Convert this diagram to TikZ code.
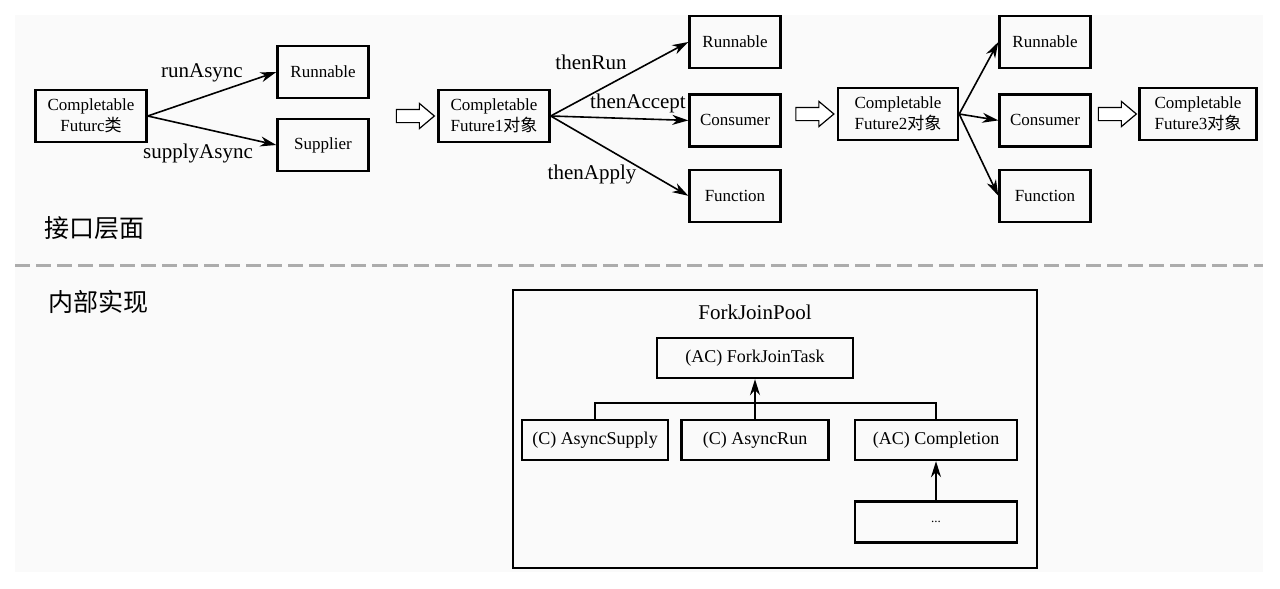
\documentclass[tikz,border=0pt]{standalone}
\usepackage{fontspec}
\setmainfont{Liberation Serif}
\newfontfamily\cjk{Noto Sans CJK SC}
\usetikzlibrary{positioning,arrows.meta,shapes.arrows}
\tikzset{box/.style={draw,line width=2.4pt,minimum width=91pt,minimum height=52pt,inner sep=2pt,align=center,font=\fontsize{17}{21}\selectfont},
	 cfbox/.style={box,minimum width=111pt},
	 cls/.style={draw,line width=2.4pt,minimum height=40pt,inner sep=2pt,font=\fontsize{18}{20}\selectfont},
	 lbl/.style={inner sep=0pt,font=\fontsize{21}{24}\selectfont},
	 zh/.style={inner sep=0pt,font=\cjk\fontsize{25}{28}\selectfont},
	 link/.style={-{Stealth[length=16pt,width=10pt,inset=5pt]},line width=1.6pt},
	 hollow/.style={single arrow,draw,fill=white,line width=1.2pt,inner xsep=0pt,inner ysep=6pt,minimum height=38pt,single arrow head extend=6pt,single arrow tip angle=80},
	 node distance = 24pt
	 }

\begin{document}
\begin{tikzpicture}[x=1pt,y=-1pt]% CompletableFuture layers
        \useasboundingbox (0,0) rectangle (1280,589);
        \fill[black!2] (15,15) rectangle (1263,572);
        % interface level
        \node[cfbox] (cf0) at (91,116) {Completable\\Futurc{\cjk 类}};
        \node[box] (r1) at (323,72) {Runnable};
        \node[box] (s1) at (323,145) {Supplier};
        \node[lbl] (lrun) at (202,73) {runAsync};
        \node[lbl] (lsup) at (198,153) {supplyAsync};
        \draw[link] (cf0.east) to (r1.west);
        \draw[link] (cf0.east) to (s1.west);

        \node[cfbox] (cf1) at (494,116) {Completable\\Future1{\cjk 对象}};
        \node[hollow] (h1) [left=2pt of cf1] {};
        \node[box] (r2) at (735,42) {Runnable};
        \node[box] (c2) [below=of r2] {Consumer};
        \node[box] (f2) [below=21pt of c2] {Function};
        \node[lbl] (lthr) at (591,62) {thenRun};
        \node[lbl] (ltha) at (638,103) {thenAccept};
        \node[lbl] (lthp) at (592,174) {thenApply};
        \draw[link] (cf1.east) to (r2.west);
        \draw[link] (cf1.east) to (c2.west);
        \draw[link] (cf1.east) to (f2.west);

        \node[cfbox,minimum width=120pt] (cf2) at (898,114) {Completable\\Future2{\cjk 对象}};
        \node[hollow] (h2) [left=2pt of cf2] {};
        \node[box] (r3) at (1045,42) {Runnable};
        \node[box] (c3) [below=of r3] {Consumer};
        \node[box] (f3) [below=21pt of c3] {Function};
        \draw[link] (cf2.east) to (r3.west);
        \draw[link] (cf2.east) to (c3.west);
        \draw[link] (cf2.east) to (f3.west);

        \node[cfbox,minimum width=117pt] (cf3) at (1198,114) {Completable\\Future3{\cjk 对象}};
        \node[hollow] (h3) [left=1pt of cf3] {};

        \node[zh,anchor=west] (api) at (44,228) {接口层面};
        \draw[gray!65,line width=3pt,dash pattern=on 15pt off 6pt] (15,265) -- (1263,265);
        \node[zh,anchor=west] (impl) at (48,302) {内部实现};

        % implementation level
        \node[draw,line width=2.4pt,minimum width=524pt,minimum height=278pt] (pool) at (775,429) {};
        \node[lbl] (lpool) at (755,312) {ForkJoinPool};
        \node[cls,minimum width=196pt] (fjt) at (755,358) {(AC) ForkJoinTask};
        \node[cls,minimum width=146pt] (asup) at (595,440) {(C) AsyncSupply};
        \node[cls,minimum width=147pt] (arun) at (755,440) {(C) AsyncRun};
        \node[cls,minimum width=162pt] (comp) at (936,440) {(AC) Completion};
        \node[cls,minimum width=162pt,minimum height=41pt,font=\fontsize{13}{13}\selectfont] (more) at (936,522) {...};
        \coordinate (join) at (755,403);
        \draw[line width=1.6pt] (asup.north) |- (join) -| (comp.north);
        \draw[link] (arun) to (fjt);
        \draw[link] (more) to (comp);
     \end{tikzpicture}
\end{document}
